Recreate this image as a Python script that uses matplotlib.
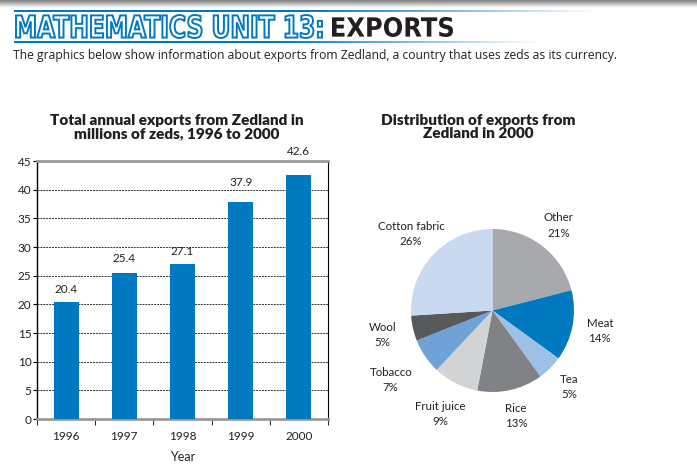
import numpy as np
import matplotlib
matplotlib.use("Agg")
from matplotlib import pyplot as plt
from matplotlib.textpath import TextPath
from matplotlib.patches import PathPatch
from matplotlib.font_manager import FontProperties
from matplotlib.transforms import Affine2D

years = ["1996", "1997", "1998", "1999", "2000"]
exports = [20.4, 25.4, 27.1, 37.9, 42.6]

products = ["Other", "Meat", "Tea", "Rice", "Fruit juice", "Tobacco", "Wool", "Cotton fabric"]
shares = [21, 14, 5, 13, 9, 7, 5, 26]
pie_colors = ["#A7A9AC", "#0079C1", "#9DC0E6", "#808285", "#D1D3D4", "#6FA3D8", "#58595B", "#C9D9EF"]

W, H = 697, 468
TXT = "#231F20"
BLUE = "#0079C1"
plt.rcParams["font.family"] = ["Lato", "DejaVu Sans"]


def fx(x):
    return x / W


def fy(y):
    return 1 - y / H


def boxed_text(fig, s, x0, x1, ytop, ybot, prop, face, edge, lw):
    # squeeze a text outline into a pixel box (the heading font is condensed)
    path = TextPath((0, 0), s, size=10, prop=prop)
    ext = path.get_extents()
    sx = (x1 - x0) / ext.width
    sy = (ybot - ytop) / ext.height
    tr = (Affine2D().translate(-ext.x0, -ext.y0).scale(sx / W, sy / H)
          .translate(fx(x0), fy(ybot)) + fig.transFigure)
    fig.patches.append(PathPatch(path, transform=tr, facecolor=face, edgecolor=edge, lw=lw))


fig = plt.figure(figsize=(W / 100, H / 100), dpi=100)

# header shadow band
top = fig.add_axes([0, fy(8), 1, 8 / H])
grad = np.linspace(0.5, 1.0, 20).reshape(-1, 1)
top.imshow(np.repeat(grad, 50, axis=1), cmap="gray", vmin=0, vmax=1, aspect="auto")
top.axis("off")

# fading blue rules around the heading
for y0, x1 in [(11, 600), (42, 540)]:
    ax_line = fig.add_axes([fx(14), fy(y0 + 1), fx(x1 - 14), 2 / H])
    rgba = np.zeros((1, 200, 4))
    rgba[..., 1] = 0.47
    rgba[..., 2] = 0.76
    rgba[..., 3] = np.concatenate([np.ones(100), np.linspace(1, 0, 100)])
    ax_line.imshow(rgba, aspect="auto")
    ax_line.axis("off")

boxed_text(fig, "MATHEMATICS UNIT 13:", 16, 322, 15, 38,
           FontProperties(family="DejaVu Sans", weight="bold"), "white", BLUE, 1.4)
boxed_text(fig, "EXPORTS", 332, 453, 17, 37,
           FontProperties(family="DejaVu Sans", weight="bold"), TXT, "none", 0)

fig.text(fx(13), fy(55), "The graphics below show information about exports from Zedland, "
         "a country that uses zeds as its currency.", fontsize=8.7, color=TXT,
         family=["Open Sans", "DejaVu Sans"], va="center", ha="left")

# bar chart
ax = fig.add_axes([fx(37), fy(419), fx(328 - 37), (419 - 161) / H])
x = np.arange(len(years))
bars = ax.bar(x, exports, width=0.43, color=BLUE, zorder=3)
label_offsets = [5, 7, 5, 10, 13]
for b, v, off in zip(bars, exports, label_offsets):
    ax.annotate(f"{v}", (b.get_x() + b.get_width() / 2, v), xytext=(0, off),
                textcoords="offset points", ha="center", va="bottom", fontsize=8.5, color=TXT)
ax.set_xlim(-0.5, len(years) - 0.5)
ax.set_ylim(0, 45)
ax.set_yticks(range(0, 46, 5))
ax.set_xticks(x)
ax.set_xticklabels(years)
ax.set_xticks(np.arange(-0.5, len(years)), minor=True)
ax.tick_params(axis="x", which="major", length=0, pad=9, labelsize=8.5, labelcolor=TXT)
ax.tick_params(axis="x", which="minor", length=4, direction="out", color="black")
ax.tick_params(axis="y", length=3, labelsize=8.5, labelcolor=TXT, pad=1)
for yv in range(5, 45, 5):
    ax.axhline(yv, color="#333333", lw=0.7, ls=(0, (2, 1)), zorder=1)
ax.spines["bottom"].set_color("#999999")
ax.spines["bottom"].set_linewidth(2)
ax.spines["top"].set_color("#999999")
ax.spines["top"].set_linewidth(2)
ax.spines["left"].set_linewidth(1)
ax.spines["right"].set_linewidth(0.8)
ax.set_xlabel("Year", fontsize=9, color=TXT, labelpad=6)

fig.text(fx(177), fy(127), "Total annual exports from Zedland in\nmillions of zeds, 1996 to 2000",
         fontsize=11, fontweight="heavy", color=TXT, ha="center", va="center", linespacing=1.0)

# pie chart
r_px = 81.5
cx, cy = 492.5, 310.5
span = 1.7
pax = fig.add_axes([fx(cx - r_px * span), fy(cy + r_px * span), 2 * r_px * span / W, 2 * r_px * span / H])
wedges, _ = pax.pie(shares, colors=pie_colors, startangle=90, counterclock=False)
label_dist = [1.32, 1.34, 1.33, 1.33, 1.42, 1.51, 1.38, 1.37]
for w, p, s, d in zip(wedges, products, shares, label_dist):
    ang = np.deg2rad((w.theta1 + w.theta2) / 2)
    pax.text(d * np.cos(ang), d * np.sin(ang), f"{p}\n{s}%", ha="center", va="center",
             fontsize=8.3, color=TXT, linespacing=1.45)
pax.set_xlim(-span, span)
pax.set_ylim(-span, span)
pax.set_aspect("equal")

fig.text(fx(478), fy(127), "Distribution of exports from\nZedland in 2000",
         fontsize=11, fontweight="heavy", color=TXT, ha="center", va="center", linespacing=1.0)

fig.savefig("out.png", dpi=100)
